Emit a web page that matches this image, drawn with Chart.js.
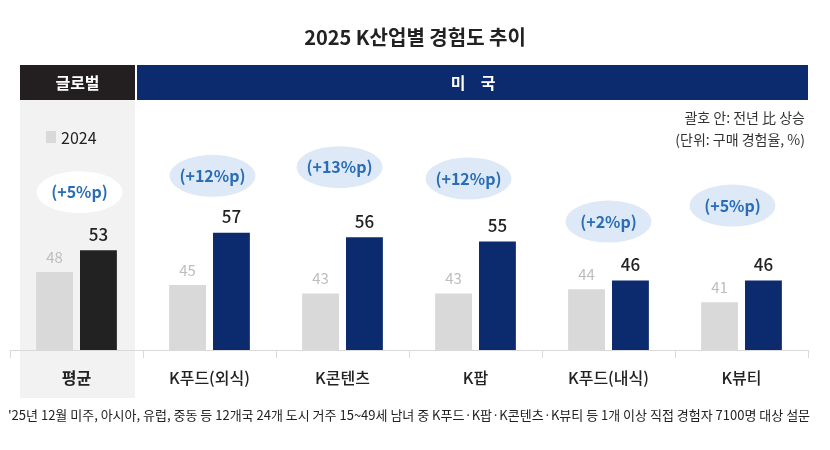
<!DOCTYPE html>
<html>
<head>
<meta charset="utf-8">
<script src="https://cdn.jsdelivr.net/npm/chart.js@4"></script>
<style>
  body { margin: 0; background: #fff; }
  canvas { display: block; }
</style>
</head>
<body>
<canvas id="kChart" width="830" height="450"></canvas>
<script>
const categories = ["평균", "K푸드(외식)", "K콘텐츠", "K팝", "K푸드(내식)", "K뷰티"];
const values2024 = [48, 45, 43, 43, 44, 41];
const values2025 = [53, 57, 56, 55, 46, 46];

const FONT = '"Noto Sans CJK KR", "Noto Sans", sans-serif';
const NAVY = "#0c2b6e";
const DARK = "#222222";
const LIGHT = "#d9d9d9";

// bubble placement tweaks (pixels)
const bubbleLift = [58, 57, 70, 63, 59, 75];
const bubbleShift = [3, 3, -3, -7, 0, -9];

const decor = {
  id: "decor",
  beforeDraw(chart) {
    const ctx = chart.ctx;
    ctx.save();
    // global panel
    ctx.fillStyle = "#f2f2f2";
    ctx.fillRect(20, 100, 115, 298);

    // title
    ctx.fillStyle = DARK;
    ctx.font = "bold 20px " + FONT;
    ctx.textAlign = "center";
    ctx.textBaseline = "middle";
    ctx.fillText("2025 K산업별 경험도 추이", 415, 37);

    // headers
    ctx.fillStyle = "#231f20";
    ctx.fillRect(20, 65, 115, 35);
    ctx.fillStyle = NAVY;
    ctx.fillRect(137, 65, 671, 35);
    ctx.fillStyle = "#fff";
    ctx.font = "bold 16px " + FONT;
    ctx.fillText("글로벌", 77.5, 83);
    ctx.fillText("미", 458, 83);
    ctx.fillText("국", 488, 83);

    // legend
    ctx.fillStyle = LIGHT;
    ctx.fillRect(46, 131, 10, 12);
    ctx.fillStyle = DARK;
    ctx.font = "16px " + FONT;
    ctx.textAlign = "left";
    ctx.fillText("2024", 61, 138);

    // note
    ctx.fillStyle = "#333";
    ctx.font = "14px " + FONT;
    ctx.textAlign = "right";
    ctx.fillText("괄호 안: 전년 比 상승", 805, 118);
    ctx.fillText("(단위: 구매 경험율, %)", 805, 140);

    // footnote
    ctx.textAlign = "left";
    ctx.font = "13px " + FONT;
    ctx.fillStyle = DARK;
    ctx.fillText("'25년 12월 미주, 아시아, 유럽, 중동 등 12개국 24개 도시 거주 15~49세 남녀 중 K푸드·K팝·K콘텐츠·K뷰티 등 1개 이상 직접 경험자 7100명 대상 설문", 8, 415, 808);
    ctx.restore();
  },
  afterDatasetsDraw(chart) {
    const ctx = chart.ctx;
    const m0 = chart.getDatasetMeta(0).data;
    const m1 = chart.getDatasetMeta(1).data;
    ctx.save();
    ctx.textAlign = "center";
    ctx.textBaseline = "middle";
    m0.forEach((bar, i) => {
      ctx.fillStyle = "#bdbdbd";
      ctx.font = "15px " + FONT;
      ctx.fillText(String(values2024[i]), bar.x, bar.y - 15);
    });
    m1.forEach((bar, i) => {
      ctx.fillStyle = DARK;
      ctx.font = "500 17px " + FONT;
      ctx.fillText(String(values2025[i]), bar.x, bar.y - 16);
    });
    categories.forEach((c, i) => {
      const top = Math.min(m0[i].y, m1[i].y);
      const cx = (m0[i].x + m1[i].x) / 2 + bubbleShift[i];
      const cy = top - bubbleLift[i];
      ctx.fillStyle = i === 0 ? "#ffffff" : "#dde9f6";
      ctx.beginPath();
      ctx.ellipse(cx, cy, 43, 21, 0, 0, Math.PI * 2);
      ctx.fill();
      ctx.fillStyle = "#2a6db6";
      ctx.font = "600 16px " + FONT;
      ctx.fillText("(+" + (values2025[i] - values2024[i]) + "%p)", cx, cy);
    });
    ctx.restore();
  }
};

new Chart(document.getElementById("kChart"), {
  type: "bar",
  data: {
    labels: categories,
    datasets: [
      {
        label: "2024",
        data: values2024,
        backgroundColor: LIGHT,
        categoryPercentage: 0.66,
        barPercentage: 0.84,
      },
      {
        label: "2025",
        data: values2025,
        backgroundColor: values2025.map((v, i) => (i === 0 ? DARK : NAVY)),
        categoryPercentage: 0.66,
        barPercentage: 0.84,
      },
    ],
  },
  options: {
    responsive: false,
    animation: false,
    layout: { padding: { left: 10, right: 22, top: 133, bottom: 0 } },
    plugins: { legend: { display: false }, tooltip: { enabled: false } },
    scales: {
      x: {
        afterFit: (scale) => { scale.height = 100; },
        grid: { offset: true, drawOnChartArea: false, tickLength: 8, color: LIGHT },
        border: { color: LIGHT },
        ticks: {
          padding: 10,
          color: DARK,
          font: (ctx) => ({ family: FONT, size: 16, weight: ctx.index === 0 ? "bold" : "500" }),
        },
      },
      y: { display: false, min: 30, max: 80 },
    },
  },
  plugins: [decor],
});
</script>
</body>
</html>
